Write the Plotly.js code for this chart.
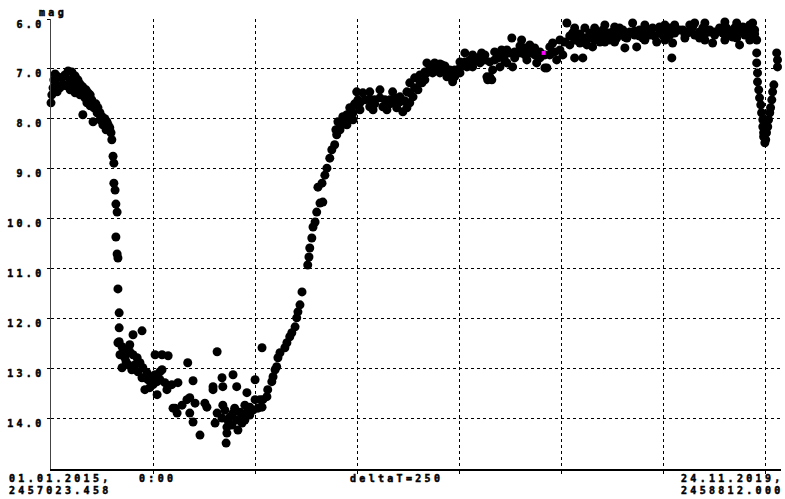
<!DOCTYPE html>
<html>
<head>
<meta charset="utf-8">
<script src="https://cdn.plot.ly/plotly-3.0.1.min.js"></script>
<style>
  html, body { margin: 0; padding: 0; background: #fff; }
  #chart { width: 785px; height: 499px; }
  svg text { letter-spacing: 3.3px; stroke: #000; stroke-width: 0.5px; }
</style>
</head>
<body>
<div id="chart"></div>
<script>
// Julian dates of the plotted interval
const JD0 = 2457023.458;
const JD1 = 2458812.000;
const gridStepDays = 250;

// Days since JD0 and visual magnitude
const earlyDay = [0,2,5,7,10,12,15,17,22,27,29,34,37,42,47,47,51,54,59,59,64,66,71,71,76,78,78,83,86,88,91,96,96,100,103,105,110,113,115,120,120,125,127,132,135,137,140,144,147,149,152,154];
const earlyMag = [7.68,7.52,7.38,7.22,7.10,7.30,7.46,7.16,7.38,7.18,7.30,7.12,7.34,7.04,7.22,7.42,7.06,7.30,7.14,7.48,7.34,7.22,7.30,7.52,7.42,7.36,7.92,7.58,7.42,7.68,7.48,7.52,7.74,7.62,8.06,7.78,7.70,7.88,7.78,7.88,8.02,7.96,8.12,8.00,8.22,8.06,8.12,8.18,8.28,8.42,8.75,8.89];

const fadeDay = [154,157,159,162,159,162,164,164,167,167,167];
const fadeMag = [9.29,9.43,9.71,9.87,10.37,10.71,10.79,11.41,11.89,12.19,12.47];

const minDay = [164,174,186,176,193,201,181,211,174,189,218,225,206,235,230,247,250,260,272,267,279,284,296,260,311,201,223,255,272,287,267,335,348,304,309,340,353,340,348,365,377,382,407,397,397,419,421,446,455,402,407,426,421,431,429,438,446,455,443,463,470,480,482,487,500,495,507,517,517,458,468,431,419,475,487,500,450,433,512,475,321,333,299,
  169,184,198,213,223,238,242,230,255,193];
const minMag = [12.49,12.57,12.63,12.69,12.67,12.73,12.79,12.79,12.99,12.93,12.89,12.99,12.93,13.09,13.19,13.17,13.33,13.27,13.03,13.23,13.29,13.43,13.33,13.53,13.29,12.33,12.25,12.73,12.73,12.75,13.07,12.89,13.25,13.80,13.90,13.59,13.70,13.90,14.08,14.34,13.70,13.78,12.67,13.37,13.43,13.19,13.37,13.13,13.37,14.10,13.90,13.84,13.74,14.30,14.50,13.98,13.90,14.04,14.14,13.88,13.94,13.49,13.84,13.78,13.23,13.84,13.80,13.78,12.59,14.24,14.10,14.18,14.00,13.74,13.94,13.63,13.80,14.04,13.63,14.04,13.74,13.63,13.80,
  12.73,12.87,13.03,13.07,13.19,13.23,13.39,13.43,13.13,12.53];

const riseDay = [519,529,531,541,544,549,553,556,561,573,578,585,590,598,602,605,610,615,629,632,634,639,642,647,651,659,666,654,664,671,676,683,688,695,700,708,713,698,703,715,720,725,732,740,744,749,752,757];
const riseMag = [13.63,13.57,13.43,13.27,13.17,13.03,12.97,12.79,12.69,12.59,12.49,12.37,12.29,12.17,11.99,11.87,11.73,11.47,10.93,10.77,10.59,10.39,10.17,10.07,9.87,9.69,9.67,9.37,9.29,9.13,8.99,8.79,8.62,8.52,8.32,8.22,8.12,8.22,8.06,7.96,8.02,7.92,7.78,7.88,7.70,7.46,7.62,7.82];

const plateauDay = [764,781,806,837,855,872,879,891,904,921,940,958,972,984,1002,1014,1033,1055,1075,1087,1104,1129,1153,1117,1149,1173,1198,1215,1229,1247,
  725,740,781,789,813,823,847,862,872,879,887,899,909,921,935,953,970,984,1002,1019,1033,1051,1070,1082,1100,1117,1131,1166,1190,1210,
  769,793,830,842,916,948,965,989,1026,1046,1063,1095,1112,1136,1161,1185,1222,1239,1068,1080,
  744,757,781,793,806,818,830,842,855,867,879,891,904,916,928,940,953,965,977,989,1002,1014,1026,1038,1051,1063,1075,1087,1100,1112,1124,1136,1149,1161,1173,1185,1198,1210,1222,1234,1247,1259,1271,1283];
const plateauMag = [7.48,7.46,7.42,7.46,7.56,7.46,7.28,7.18,7.12,6.88,6.88,6.92,7.02,7.16,6.86,6.68,6.72,6.68,7.16,6.66,6.62,6.38,6.42,6.62,6.68,6.68,6.66,6.98,6.48,6.42,
  8.12,8.02,7.76,7.82,7.76,7.82,7.78,7.86,7.78,7.68,7.56,7.42,7.28,7.08,7.08,7.08,7.16,7.26,7.08,6.96,6.96,6.88,7.22,7.02,6.96,6.88,6.96,6.82,6.88,6.98,
  7.62,7.62,7.62,7.58,7.22,6.98,7.06,7.02,6.82,6.78,6.82,6.78,6.72,6.66,6.58,6.72,6.72,6.82,7.16,7.22,
  7.72,7.68,7.60,7.70,7.58,7.62,7.70,7.66,7.66,7.64,7.48,7.38,7.26,7.06,7.00,7.00,6.90,6.94,7.02,7.16,6.98,6.86,6.94,6.84,6.76,6.72,6.86,6.82,6.76,6.84,6.68,6.78,6.54,6.72,6.52,6.58,6.78,6.72,6.56,6.66,6.62,6.46,6.34,6.42];

const highDay = [1254,1264,1278,1283,1296,1303,1308,1320,1327,1337,1345,1352,1362,1369,1376,1386,1393,1401,1406,1411,1418,1425,1430,1435,1442,1450,1460,1467,1474,1484,1491,1499,1508,1516,1521,1523,1533,1540,1548,1558,1565,1572,1582,1589,1597,1606,1614,1621,1626,1633,1638,1646,1655,1663,1670,1675,1687,1695,1700,1704,1712,1719,1724,1729,
  1455,1504,1553,1602,1651,1680,1712,1332,1357,1381,1271,1288,1313,
  1283,1332,1357,1381,1455,1504,1528,1577,1602,1651,1680,1712,
  1296,1308,1320,1332,1345,1357,1369,1381,1393,1406,1418,1430,1442,1455,1467,1479,1491,1504,1516,1528,1540,1553,1565,1577,1589,1602,1614,1626,1638,1651,1663,1675,1687,1700,1712,1724];
const highMag = [6.72,6.08,6.28,6.78,6.48,6.78,6.18,6.38,6.56,6.28,6.46,6.22,6.28,6.42,6.26,6.38,6.18,6.22,6.58,6.38,6.26,6.08,6.32,6.56,6.22,6.38,6.22,6.32,6.18,6.46,6.16,6.32,6.36,6.18,6.78,6.48,6.22,5.98,6.22,6.28,6.12,6.16,6.32,6.38,6.18,6.22,6.22,6.48,6.26,5.98,6.18,6.28,6.18,6.32,6.36,6.18,6.52,6.16,6.26,6.18,6.26,6.08,6.22,6.42,
  6.42,6.42,6.38,6.42,6.42,6.38,6.42,6.42,6.46,6.46,6.52,6.42,6.52,
  6.18,6.18,6.12,6.16,6.12,6.12,6.12,6.08,6.08,6.06,6.08,6.12,
  6.30,6.38,6.28,6.34,6.30,6.36,6.28,6.34,6.30,6.36,6.28,6.24,6.34,6.28,6.26,6.34,6.28,6.24,6.32,6.28,6.22,6.30,6.26,6.32,6.26,6.30,6.26,6.32,6.24,6.30,6.24,6.30,6.26,6.32,6.22,6.30];

const dipDay = [1729,1729,1731,1731,1734,1736,1739,1741,1744,1744,1746,1746,1749,1751,1753,1756,1758,1761,1763,1766,1768,1771,1778,1780,1780];
const dipMag = [6.68,6.88,7.08,7.26,7.42,7.58,7.72,7.88,8.02,8.16,8.28,8.36,8.48,8.42,8.28,8.16,8.02,7.88,7.78,7.62,7.46,7.32,6.68,6.82,6.96];

// single highlighted (magenta) observation
const markDay = [1207];
const markMag = [6.68];

const magTicks = [6, 7, 8, 9, 10, 11, 12, 13, 14];
const magTickText = ['6.0', '7.0', '8.0', '9.0', '10.0', '11.0', '12.0', '13.0', '14.0'];

const allDay = [].concat(earlyDay, fadeDay, minDay, riseDay, plateauDay, highDay, dipDay);
const allMag = [].concat(earlyMag, fadeMag, minMag, riseMag, plateauMag, highMag, dipMag);

const gridVals = [];
for (let k = 1; JD0 + k * gridStepDays < JD1; k++) gridVals.push(JD0 + k * gridStepDays);

const FONT = 'DejaVu Sans Mono, monospace';

const traces = [
  {
    type: 'scatter', mode: 'markers',
    x: allDay.map(d => JD0 + d), y: allMag,
    marker: { color: '#000', size: 9, line: { width: 0 } },
    cliponaxis: false, hoverinfo: 'x+y'
  },
  {
    type: 'scatter', mode: 'markers',
    x: markDay.map(d => JD0 + d), y: markMag,
    marker: { color: '#ff00ff', size: 4, symbol: 'square' },
    cliponaxis: false
  }
];

function lab(text, x, y, xanchor) {
  return { text: '<b>' + text + '</b>', xref: 'paper', yref: 'paper', x: x, y: y,
    xanchor: xanchor, yanchor: 'middle', showarrow: false,
    font: { family: FONT, size: 10, color: '#000' } };
}

const W = 730, H = 450;
const layout = {
  width: 785, height: 499,
  margin: { l: 51, r: 4, t: 19, b: 30, pad: 0 },
  paper_bgcolor: '#fff', plot_bgcolor: '#fff',
  showlegend: false,
  xaxis: {
    range: [JD0, JD1],
    tickmode: 'array', tickvals: gridVals, showticklabels: false,
    ticks: 'outside', ticklen: 3, tickcolor: '#000', tickwidth: 1,
    showgrid: true, gridcolor: '#000', gridwidth: 1, griddash: 'dot',
    showline: true, linecolor: '#000', linewidth: 1.5,
    zeroline: false, fixedrange: true
  },
  yaxis: {
    range: [15.02, 6.0],
    tickmode: 'array', tickvals: magTicks, ticktext: magTickText.map(t => '<b>' + t + '</b>'),
    tickfont: { family: FONT, size: 10, color: '#000' },
    ticklabelshift: -5,
    ticks: 'outside', ticklen: 3, tickcolor: '#000', tickwidth: 1,
    showgrid: true, gridcolor: '#000', gridwidth: 1, griddash: 'dot',
    showline: true, linecolor: '#444', linewidth: 1.5,
    zeroline: false, fixedrange: true
  },
  annotations: [
    lab('mag', (37 - 51) / W, 1 + 6 / H, 'left'),
    lab('01.01.2015,', (7 - 51) / W, -(478.5 - 469) / H, 'left'),
    lab('2457023.458', (7 - 51) / W, -(490.5 - 469) / H, 'left'),
    lab('0:00', (137 - 51) / W, -(478.5 - 469) / H, 'left'),
    lab('deltaT=250', (348 - 51) / W, -(478.5 - 469) / H, 'left'),
    lab('24.11.2019,', (786 - 51) / W, -(478.5 - 469) / H, 'right'),
    lab('2458812.000', (786 - 51) / W, -(490.5 - 469) / H, 'right')
  ]
};

Plotly.newPlot('chart', traces, layout, { staticPlot: true, displayModeBar: false });
</script>
</body>
</html>
